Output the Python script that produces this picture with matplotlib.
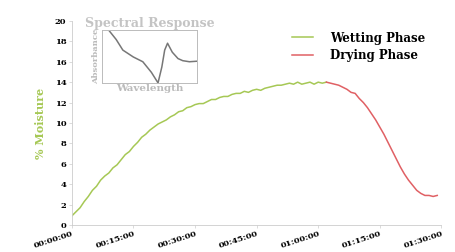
import matplotlib
matplotlib.use("Agg")
import matplotlib.pyplot as plt

# wetting phase: minutes -> % moisture
wet_t = list(range(0, 63))
wet_v = [0.9, 1.3, 1.7, 2.3, 2.8, 3.4, 3.8, 4.4, 4.8, 5.1,
         5.6, 5.9, 6.4, 6.9, 7.2, 7.7, 8.1, 8.6, 8.9, 9.3,
         9.6, 9.9, 10.1, 10.3, 10.6, 10.8, 11.1, 11.2, 11.5, 11.6,
         11.8, 11.9, 11.9, 12.1, 12.3, 12.3, 12.5, 12.6, 12.6, 12.8,
         12.9, 12.9, 13.1, 13.0, 13.2, 13.3, 13.2, 13.4, 13.5, 13.6,
         13.7, 13.7, 13.8, 13.9, 13.8, 14.0, 13.8, 13.9, 14.0, 13.8,
         14.0, 13.9, 14.0]

# drying phase
dry_t = list(range(62, 90))
dry_v = [14.0, 13.9, 13.8, 13.7, 13.5, 13.3, 13.0, 12.9, 12.4, 12.0,
         11.5, 10.9, 10.3, 9.6, 8.9, 8.1, 7.3, 6.5, 5.7, 5.0,
         4.4, 3.9, 3.4, 3.1, 2.9, 2.9, 2.8, 2.9]

tick_min = [0, 15, 30, 45, 60, 75, 90]
tick_lbl = ["00:00:00", "00:15:00", "00:30:00", "00:45:00",
            "01:00:00", "01:15:00", "01:30:00"]

# inset spectrum
wl = [0.07, 0.15, 0.22, 0.33, 0.43, 0.52, 0.59, 0.63, 0.66, 0.69, 0.74, 0.80, 0.85, 0.92, 1.0]
ab = [1.0, 0.82, 0.62, 0.49, 0.40, 0.20, 0.0, 0.30, 0.62, 0.75, 0.58, 0.46, 0.42, 0.40, 0.41]

green = "#a6c855"
red = "#e06064"
serif = "DejaVu Serif"

fig = plt.figure(figsize=(4.55, 2.52), dpi=100)
ax = fig.add_axes([0.158, 0.107, 0.812, 0.81])
ax.plot(wet_t, wet_v, color=green, lw=1.1, label="Wetting Phase")
ax.plot(dry_t, dry_v, color=red, lw=1.1, label="Drying Phase")
ax.set_xlim(0, 90)
ax.set_ylim(0, 20)
ax.set_yticks(range(0, 21, 2))
ax.set_xticks(tick_min)
ax.set_xticklabels(tick_lbl, rotation=18, ha="right", rotation_mode="anchor")
for lab in ax.get_xticklabels():
    lab.set_fontfamily(serif)
    lab.set_fontweight("bold")
    lab.set_fontsize(6)
for lab in ax.get_yticklabels():
    lab.set_fontfamily(serif)
    lab.set_fontweight("bold")
    lab.set_fontsize(6)
ax.tick_params(length=2, width=0.5, color="#cccccc", pad=2)
ax.tick_params(axis="x", pad=1.5)
for s in ["top", "right"]:
    ax.spines[s].set_visible(False)
for s in ["left", "bottom"]:
    ax.spines[s].set_color("#cccccc")
    ax.spines[s].set_linewidth(0.6)
ax.set_ylabel("% Moisture", color=green, fontfamily=serif, fontweight="bold",
              fontsize=8, labelpad=6)
leg = ax.legend(loc="upper right", bbox_to_anchor=(0.985, 1.0), frameon=False,
                prop={"family": serif, "weight": "bold", "size": 8.5},
                handlelength=1.8, handletextpad=1.4, labelspacing=0.4)

ins = fig.add_axes([0.224, 0.671, 0.209, 0.21])
ins.plot(wl, ab, color="#777777", lw=1.1)
ins.set_xlim(0, 1)
ins.set_ylim(0, 1)
ins.set_xticks([])
ins.set_yticks([])
for s in ins.spines.values():
    s.set_color("#bbbbbb")
    s.set_linewidth(0.7)
ins.set_title("Spectral Response", color="#c4c4c4", fontfamily=serif,
              fontweight="bold", fontsize=9, pad=2)
ins.set_xlabel("Wavelength", color="#bbbbbb", fontfamily=serif,
               fontweight="bold", fontsize=7.5, labelpad=1)
ins.set_ylabel("Absorbance", color="#bbbbbb", fontfamily=serif,
               fontweight="bold", fontsize=6, labelpad=1)

fig.savefig("out.png", dpi=100)
